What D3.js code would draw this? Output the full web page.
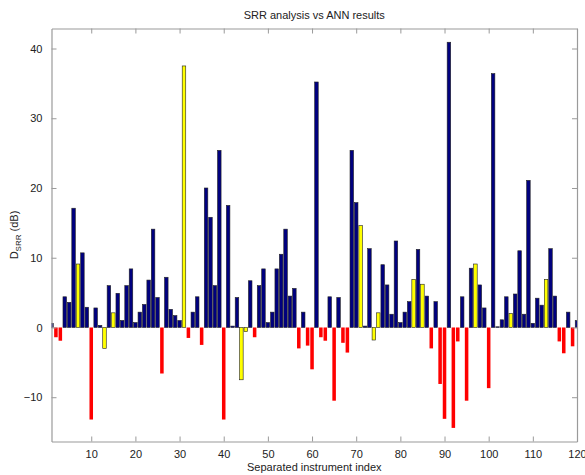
<!DOCTYPE html>
<html>
<head>
<meta charset="utf-8">
<script src="https://cdn.jsdelivr.net/npm/d3@7"></script>
<style>
  body { margin: 0; background: #fff; }
  text { font-family: "Liberation Sans", Arial, sans-serif; }
</style>
</head>
<body>
<div id="chart"></div>
<script>
// Data
var indices = d3.range(1, 121)
var dsrr = [
  0.6, -1.4, -1.9, 4.4, 3.6, 17.1, 9.1, 10.7, 2.9, -13.2,
  2.8, 0.3, -3.0, 6.0, 2.1, 4.9, 1.0, 6.0, 8.4, 0.7,
  2.2, 3.3, 6.8, 14.1, 4.3, -6.6, 7.2, 2.6, 1.7, 1.0,
  37.5, -1.5, 2.2, 4.4, -2.5, 20.0, 15.8, 6.0, 25.4, -13.2,
  17.5, 0.2, 4.3, -7.5, -0.6, 6.7, -1.4, 6.0, 8.4, 0.7,
  2.2, 8.4, 10.5, 14.1, 4.5, 5.6, -3.0, 2.2, -2.6, -6.0,
  35.2, -1.4, -1.9, 4.4, -10.5, 4.3, -2.2, -3.6, 25.4, 17.9,
  14.6, 0.2, 11.3, -1.8, 2.1, 9.0, 6.1, 1.9, 12.4, 0.7,
  2.2, 3.7, 6.9, 11.2, 6.2, 4.5, -3.0, 3.7, -8.1, -13.1,
  40.9, -14.4, -2.0, 4.4, -10.5, 8.5, 9.1, 6.1, 2.8, -8.7,
  36.4, 0.1, 1.1, 4.4, 2.0, 4.8, 11.0, 1.9, 21.1, 0.6,
  4.2, 3.2, 6.9, 11.3, 4.5, -2.0, -3.7, 2.2, -2.7, 1.0
]
// bars highlighted in yellow
var yellowIdx = [7, 13, 15, 31, 44, 45, 71, 74, 75, 83, 85, 97, 105, 113]
var xTicks = d3.range(10, 121, 10)
var yTicks = [-10, 0, 10, 20, 30, 40]

var width = 585
var height = 475
var margin = {top: 28.5, right: 8, bottom: 33.5, left: 51.5}

var bars = indices.map((d, i) => ({idx: d, v: dsrr[i]}))

const svg = d3.select('#chart').append('svg')
  .attr('width', width)
  .attr('height', height)

const x = d3.scaleLinear()
  .domain([1, 120])
  .range([margin.left, width - margin.right])

const y = d3.scaleLinear()
  .domain([-16.35, 42.87])
  .range([height - margin.bottom, margin.top])

const barW = (x(2) - x(1)) * 0.8

const colorOf = d => {
  if (yellowIdx.indexOf(d.idx) >= 0) return '#ffff00'
  return d.v < 0 ? '#ff0000' : '#00007f'
}

svg.append('clipPath').attr('id', 'clip')
  .append('rect')
  .attr('x', margin.left).attr('y', margin.top)
  .attr('width', width - margin.left - margin.right)
  .attr('height', height - margin.top - margin.bottom)

// Bars
svg.append('g')
  .attr('clip-path', 'url(#clip)')
  .selectAll('rect')
  .data(bars)
  .enter()
  .append('rect')
  .attr('x', d => x(d.idx) - barW / 2)
  .attr('width', barW)
  .attr('y', d => y(Math.max(0, d.v)))
  .attr('height', d => Math.abs(y(d.v) - y(0)))
  .attr('fill', colorOf)
  .attr('stroke', d => colorOf(d) == '#ff0000' ? 'none' : '#222')
  .attr('stroke-width', 0.6)

// Axes (box with inward ticks on all sides)
const axisColor = '#9a9a9a'
const tickLen = 5

const bottomAxis = svg.append('g')
  .attr('transform', 'translate(0,' + (height - margin.bottom) + ')')
  .call(d3.axisBottom(x).tickValues(xTicks).tickSizeInner(-tickLen).tickSizeOuter(0).tickPadding(9))
const topAxis = svg.append('g')
  .attr('transform', 'translate(0,' + margin.top + ')')
  .call(d3.axisTop(x).tickValues(xTicks).tickSizeInner(-tickLen).tickSizeOuter(0).tickFormat(''))
const leftAxis = svg.append('g')
  .attr('transform', 'translate(' + margin.left + ',0)')
  .call(d3.axisLeft(y).tickValues(yTicks).tickSizeInner(-tickLen).tickSizeOuter(0).tickPadding(9))
const rightAxis = svg.append('g')
  .attr('transform', 'translate(' + (width - margin.right) + ',0)')
  .call(d3.axisRight(y).tickValues(yTicks).tickSizeInner(-tickLen).tickSizeOuter(0).tickFormat(''))

;[bottomAxis, topAxis, leftAxis, rightAxis].forEach(a => {
  a.select('.domain').attr('stroke', axisColor).attr('stroke-width', 1.2)
  a.selectAll('.tick line').attr('stroke', axisColor)
  a.selectAll('.tick text')
    .attr('fill', '#222')
    .attr('font-size', 11)
    .attr('font-family', '"Liberation Sans", Arial, sans-serif')
})

// Title
svg.append('text')
  .attr('x', (margin.left + width - margin.right) / 2)
  .attr('y', 19)
  .attr('text-anchor', 'middle')
  .attr('font-size', 11)
  .attr('fill', '#222')
  .text('SRR analysis vs ANN results')

// X label
svg.append('text')
  .attr('x', (margin.left + width - margin.right) / 2)
  .attr('y', 471)
  .attr('text-anchor', 'middle')
  .attr('font-size', 11)
  .attr('fill', '#222')
  .text('Separated instrument index')

// Y label with subscript
const yl = svg.append('text')
  .attr('transform', 'translate(17.5,' + ((margin.top + height - margin.bottom) / 2) + ') rotate(-90)')
  .attr('text-anchor', 'middle')
  .attr('font-size', 11)
  .attr('fill', '#222')
yl.append('tspan').text('D')
yl.append('tspan').attr('font-size', 8).attr('dy', 3).text('SRR')
yl.append('tspan').attr('dy', -3).text(' (dB)')
</script>
</body>
</html>
